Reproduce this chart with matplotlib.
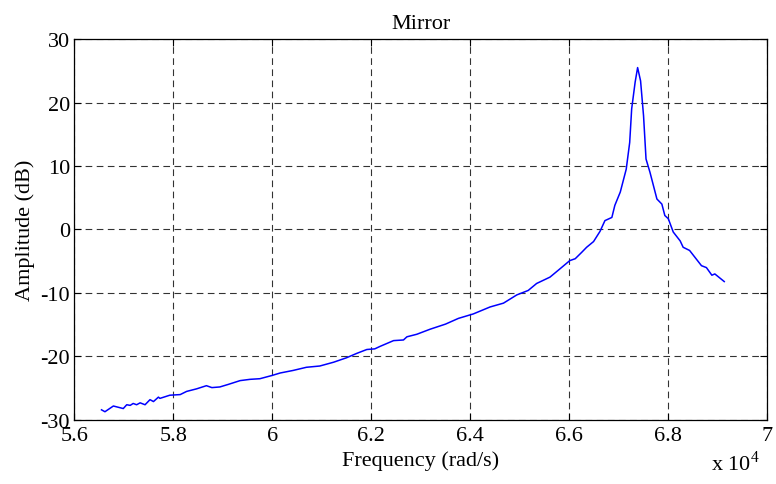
import matplotlib
matplotlib.use("Agg")
import matplotlib.pyplot as plt

plt.rcParams['font.family'] = ['Liberation Serif', 'DejaVu Serif']
plt.rcParams['axes.unicode_minus'] = False
plt.rcParams['mathtext.fontset'] = 'custom'
plt.rcParams['mathtext.rm'] = 'Liberation Serif'

# frequency in units of 1e4 rad/s, amplitude in dB
freq = [5.655, 5.662, 5.679, 5.699, 5.706, 5.713, 5.719, 5.726, 5.733, 5.743,
        5.753, 5.760, 5.770, 5.773, 5.793, 5.814, 5.827, 5.847, 5.867, 5.878,
        5.894, 5.911, 5.935, 5.955, 5.975, 5.999, 6.016, 6.042, 6.069, 6.096,
        6.124, 6.150, 6.171, 6.191, 6.207, 6.218, 6.245, 6.265, 6.272, 6.292,
        6.319, 6.350, 6.376, 6.406, 6.440, 6.467, 6.494, 6.517, 6.534, 6.561,
        6.578, 6.601, 6.612, 6.625, 6.635, 6.649, 6.662, 6.672, 6.686, 6.692,
        6.703, 6.715, 6.722, 6.726, 6.733, 6.738, 6.744, 6.750, 6.755, 6.763,
        6.777, 6.787, 6.793, 6.800, 6.810, 6.824, 6.830, 6.843, 6.867, 6.877,
        6.888, 6.894, 6.913]
amp = [-28.4, -28.7, -27.8, -28.2, -27.6, -27.7, -27.4, -27.6, -27.3, -27.6,
       -26.8, -27.1, -26.4, -26.6, -26.1, -26.0, -25.5, -25.1, -24.6, -24.9,
       -24.8, -24.4, -23.8, -23.6, -23.5, -23.0, -22.6, -22.2, -21.7, -21.5,
       -20.9, -20.2, -19.5, -18.9, -18.8, -18.4, -17.5, -17.4, -16.9, -16.5,
       -15.7, -14.9, -14.0, -13.3, -12.2, -11.6, -10.3, -9.6, -8.5, -7.5,
       -6.4, -4.9, -4.6, -3.6, -2.8, -1.9, -0.3, 1.4, 1.9, 3.8,
       5.9, 9.5, 13.7, 19.0, 23.2, 25.5, 23.4, 17.9, 11.1, 9.0,
       4.8, 4.0, 2.2, 1.7, -0.4, -1.8, -2.8, -3.3, -5.7, -6.0,
       -7.2, -7.0, -8.2]

xticks = [5.6, 5.8, 6.0, 6.2, 6.4, 6.6, 6.8, 7.0]
xticklabels = ['5.6', '5.8', '6', '6.2', '6.4', '6.6', '6.8', '7']
yticks = [-30, -20, -10, 0, 10, 20, 30]

fs = 16
fig = plt.figure(figsize=(7.76, 4.85), dpi=100)
ax = fig.add_axes([0.0957, 0.132, 0.8931, 0.7855])
ax.plot(freq, amp, color='#0000ff', linewidth=1.1)
ax.set_xlim(5.6, 7.0)
ax.set_ylim(-30, 30)
ax.set_xticks(xticks)
ax.set_xticklabels(xticklabels)
ax.set_yticks(yticks)
ax.tick_params(direction='in', length=5, labelsize=fs, top=True, right=True, width=0.8)
ax.tick_params(axis='x', pad=4)
ax.tick_params(axis='y', pad=3)
ax.grid(True, color='black', linestyle=(0, (6, 4)), linewidth=0.8, alpha=0.8)
for s in ax.spines.values():
    s.set_linewidth(0.9)
ax.set_title('Mirror', fontsize=fs, pad=8)
ax.set_xlabel('Frequency (rad/s)', fontsize=fs, labelpad=4)
ax.set_ylabel('Amplitude (dB)', fontsize=fs, labelpad=4)
fig.text(0.947, 0.018, r'x 10$^{4}$', fontsize=fs, ha='center', va='bottom')
fig.savefig('out.png', dpi=100)
